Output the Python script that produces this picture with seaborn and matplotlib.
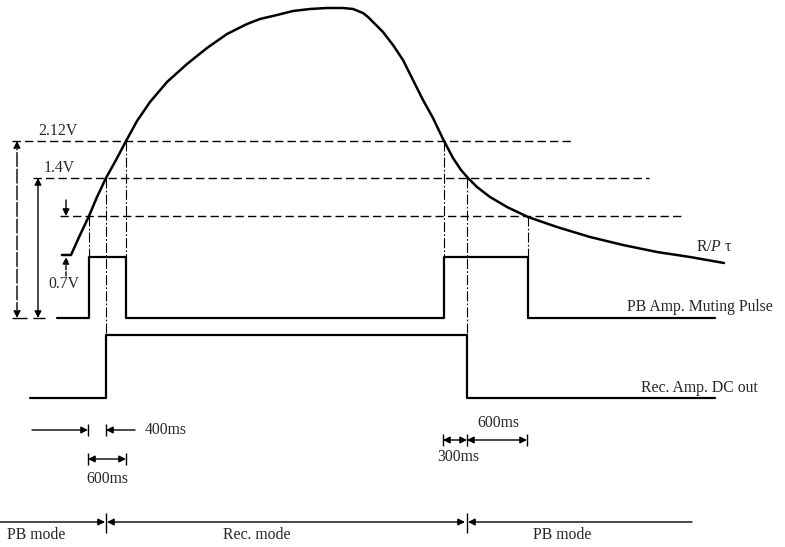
import numpy as np
import pandas as pd
import seaborn as sns
from matplotlib import pyplot as plt

# R/P tau envelope (x = time, y = screen level, down is positive)
rp_x = [62, 71, 80, 89, 97, 106, 116, 125, 137, 150, 167, 187, 207, 227, 247, 260, 277, 293,
        310, 327, 343, 353, 358, 363, 368, 373, 383, 393, 403, 413, 423, 433, 443, 453, 461,
        468, 477, 490, 507, 528, 557, 590, 623, 657, 690, 724]
rp_y = [255, 255, 235, 216, 197, 178, 160, 143, 121, 102, 82, 64, 48, 34, 24, 19, 15, 11,
        9, 8, 8, 9, 11, 13, 17, 22, 32, 45, 60, 80, 100, 118, 139, 158, 170,
        178, 187, 197, 207, 217, 227, 237, 245, 252, 257, 263]

# threshold levels (2.12V, 1.4V, 0.7V above start) and where the dashed guides end
lvl_names = ['2.12V', '1.4V', '0.7V']
lvl_y = [141, 178, 216]
lvl_x0 = [12, 33, 60]
lvl_x1 = [572, 649, 683]
start_y = 255

# switching instants
mute_edges = [89, 126, 444, 528]
rec_edges = [106, 467]
mute_lo, mute_hi, mute_start = 318, 257, 57
rec_lo, rec_hi, rec_start = 398, 335, 30
t_end = 715
mode_y = 522

def step_xy(x0, edges, x1, lo, hi):
    xs, ys = [x0], [lo]
    state = lo
    for e in edges:
        xs += [e, e]
        ys += [state, hi if state == lo else lo]
        state = ys[-1]
    xs.append(x1)
    ys.append(state)
    return xs, ys

sns.set_theme(style='white')
plt.rcParams['font.family'] = ['Liberation Serif', 'DejaVu Serif']
plt.rcParams['mathtext.fontset'] = 'custom'
plt.rcParams['mathtext.rm'] = 'Liberation Serif'
plt.rcParams['mathtext.it'] = 'Liberation Serif:italic'

fig = plt.figure(figsize=(7.85, 5.47), dpi=100)
ax = fig.add_axes([0, 0, 1, 1])
ax.set_xlim(0, 785)
ax.set_ylim(547, 0)
ax.axis('off')

fs = 11.3
kw = dict(color='black', estimator=None, sort=False, ax=ax, legend=False)

# envelope and the two logic signals
sns.lineplot(x=rp_x, y=rp_y, lw=1.8, **kw)
mx, my = step_xy(mute_start, mute_edges, t_end, mute_lo, mute_hi)
sns.lineplot(x=mx, y=my, lw=1.6, **kw)
rx, ry = step_xy(rec_start, rec_edges, t_end, rec_lo, rec_hi)
sns.lineplot(x=rx, y=ry, lw=1.6, **kw)

# dashed level guides
for y, a, b in zip(lvl_y, lvl_x0, lvl_x1):
    ax.hlines(y, a, b, colors='black', lw=1.0, linestyles=(0, (6, 3)))

# dash-dot verticals from crossings down to the pulses
dd = (0, (9, 2, 1.5, 2))
for xv, yt, yb in [(89, 216, 257), (106, 178, 335), (126, 141, 257),
                   (444, 141, 257), (467, 178, 335), (528, 216, 257)]:
    ax.vlines(xv, yt, yb, colors='black', lw=0.8, linestyles=dd)

# voltage dimension arrows on the left
ap = dict(color='black', lw=1, mutation_scale=10, shrinkA=0, shrinkB=0)
ax.annotate('', xy=(17, lvl_y[0]), xytext=(17, mute_lo),
            arrowprops=dict(arrowstyle='<|-|>', ls=(0, (10, 2)), **ap))
ax.annotate('', xy=(38, lvl_y[1]), xytext=(38, mute_lo),
            arrowprops=dict(arrowstyle='<|-|>', **ap))
ax.hlines([mute_lo, mute_lo], [12, 33], [27, 45], colors='black', lw=1)
ax.annotate('', xy=(66, lvl_y[2]), xytext=(66, 200),
            arrowprops=dict(arrowstyle='-|>', **ap))
ax.annotate('', xy=(66, start_y + 2), xytext=(66, 276),
            arrowprops=dict(arrowstyle='-|>', ls=(0, (3, 1.5)), **ap))

ax.text(38, 131, lvl_names[0], fontsize=fs, va='center')
ax.text(44, 168, lvl_names[1], fontsize=fs, va='center')
ax.text(48, 284, lvl_names[2], fontsize=fs, va='center')

# signal labels
ax.text(696, 247, r'R/$P$ τ', fontsize=fs, va='center')
ax.text(627, 307, 'PB Amp. Muting Pulse', fontsize=fs, va='center')
ax.text(641, 388, 'Rec. Amp. DC out', fontsize=fs, va='center')

# timing dimensions
ax.annotate('', xy=(88, 430), xytext=(32, 430), arrowprops=dict(arrowstyle='-|>', **ap))
ax.annotate('', xy=(106, 430), xytext=(135, 430), arrowprops=dict(arrowstyle='-|>', **ap))
ax.vlines([88, 106], 424, 436, colors='black', lw=1)
ax.text(145, 430, '400ms', fontsize=fs, va='center')

ax.annotate('', xy=(88, 459), xytext=(126, 459), arrowprops=dict(arrowstyle='<|-|>', **ap))
ax.vlines([88, 126], 453, 465, colors='black', lw=1)
ax.text(107, 479, '600ms', fontsize=fs, va='center', ha='center')

ax.annotate('', xy=(443, 440), xytext=(467, 440), arrowprops=dict(arrowstyle='<|-|>', **ap))
ax.annotate('', xy=(467, 440), xytext=(527, 440), arrowprops=dict(arrowstyle='<|-|>', **ap))
ax.vlines([443, 467, 527], 434, 446, colors='black', lw=1)
ax.text(498, 423, '600ms', fontsize=fs, va='center', ha='center')
ax.text(458, 457, '300ms', fontsize=fs, va='center', ha='center')

# mode bar
ax.annotate('', xy=(105, mode_y), xytext=(0, mode_y), arrowprops=dict(arrowstyle='-|>', **ap))
ax.annotate('', xy=(107, mode_y), xytext=(465, mode_y), arrowprops=dict(arrowstyle='<|-|>', **ap))
ax.annotate('', xy=(468, mode_y), xytext=(692, mode_y), arrowprops=dict(arrowstyle='-|>', **ap))
ax.vlines([106, 467], 513, 533, colors='black', lw=1)
ax.text(7, 535, 'PB mode', fontsize=fs, va='center')
ax.text(257, 535, 'Rec. mode', fontsize=fs, va='center', ha='center')
ax.text(562, 535, 'PB mode', fontsize=fs, va='center', ha='center')

fig.savefig('out.png', dpi=100)
